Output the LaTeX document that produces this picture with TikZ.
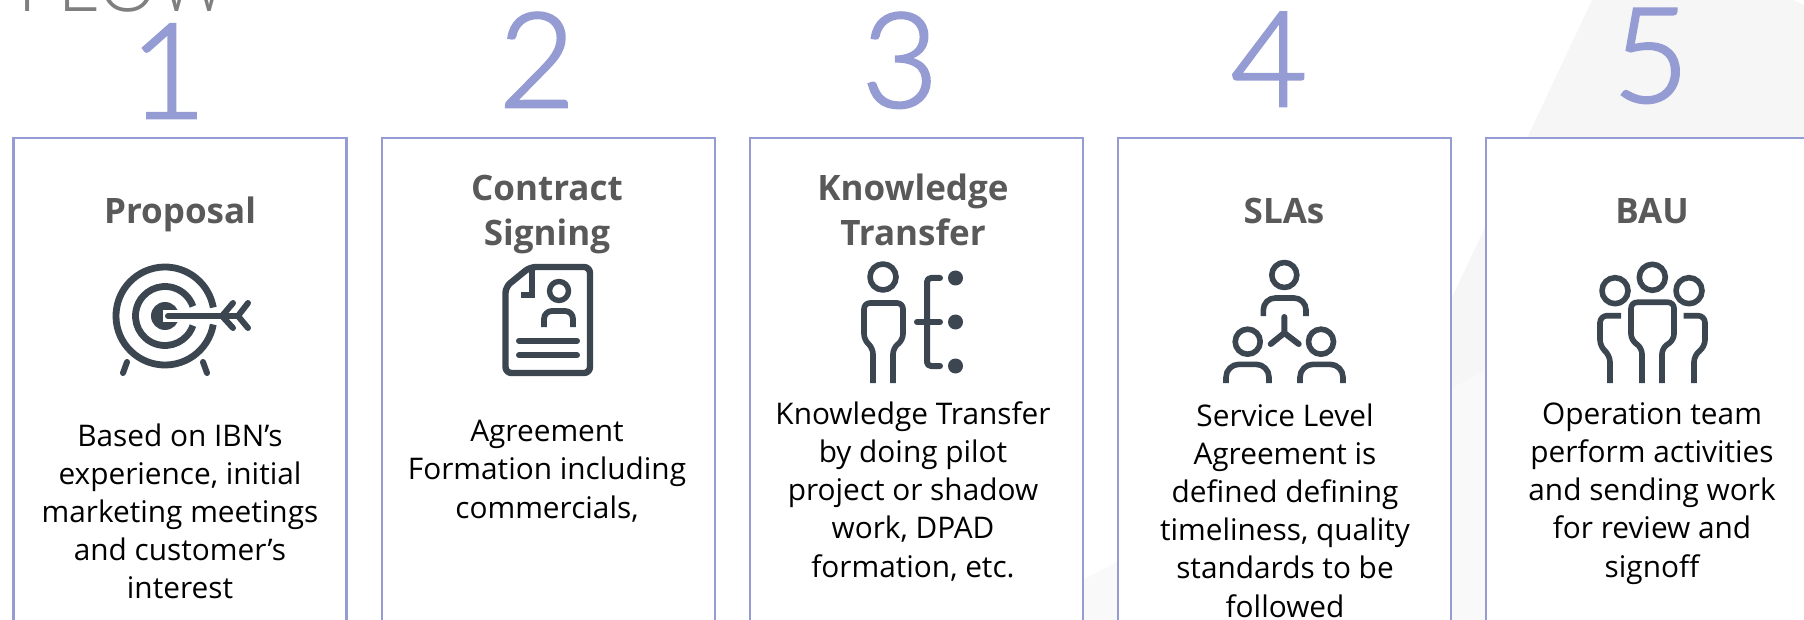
\documentclass[tikz,border=0pt]{standalone}
\usepackage{fontspec}
\setmainfont{Open Sans}
\newfontfamily\lightf{Open Sans Light}
\newfontfamily\numf[FakeBold=2]{Lato Light}
\definecolor{frame}{HTML}{959BD3}
\definecolor{ink}{HTML}{3B4651}
\definecolor{headc}{HTML}{595959}
\definecolor{flowc}{HTML}{7F7F7F}
\definecolor{bgc}{HTML}{F6F6F6}
\definecolor{bgd}{HTML}{F9F9FA}
\tikzset{
 x=0.5pt,y=-0.5pt,
 stepbox/.style={draw=frame,line width=1.25pt,fill=white},
 num/.style={text=frame,font=\numf\fontsize{66}{66}\selectfont,anchor=base,inner sep=0},
 head/.style={text=headc,font=\bfseries\fontsize{17.5}{22.5}\selectfont,align=center,inner sep=0},
 body/.style={text=black,font=\fontsize{14.9}{19.1}\selectfont,align=center,inner sep=0,anchor=north},
 ic/.style={draw=ink,line width=3pt,line cap=round,line join=round},
 icb/.style={draw=ink,line width=2.9pt,line cap=butt,line join=round},
}
\begin{document}
\begin{tikzpicture}
\useasboundingbox (0,0) rectangle (1804,620);
\clip (0,0) rectangle (1804,620);
\fill[bgc] (1592,0) -- (1793,0) -- (1804,5) -- (1804,620) -- (1300,620) -- cycle;
\fill[white] (1592,0) -- (1300,533) -- (1300,0) -- cycle;
\fill[bgd] (1005,620) -- (1600,311) -- (1804,620) -- cycle;
\node[text=flowc,font=\lightf\fontsize{40}{40}\selectfont,anchor=base west,inner sep=0] (flow) at (17,12) {FLOW};
\foreach \l in {13.5,382,750,1118,1486}{
 \draw[stepbox] (\l,138) rectangle (\l+333,640);
}
\node[num] (n1) at (168,118) {1};
\node[num] (n2) at (537,107) {2};
\node[num] (n3) at (900,107) {3};
\node[num] (n4) at (1269,106) {4};
\node[num] (n5) at (1651,102) {5};
\node[head] (h1) at (180,214) {Proposal};
\node[head] (h2) at (547,215) {Contract\\Signing};
\node[head] (h3) at (913,210) {Knowledge\\Transfer};
\node[head] (h4) at (1284,211) {SLAs};
\node[head] (h5) at (1652,211) {BAU};
\node[body] (t1) at (180,423) {Based on IBN’s\\experience, initial\\marketing meetings\\and customer’s\\interest};
\node[body] (t2) at (547,420) {Agreement\\Formation including\\commercials,};
\node[body] (t3) at (913,401) {Knowledge Transfer\\by doing pilot\\project or shadow\\work, DPAD\\formation, etc.};
\node[body] (t4) at (1285,403) {Service Level\\Agreement is\\defined defining\\timeliness, quality\\standards to be\\followed};
\node[body] (t5) at (1652,402) {Operation team\\perform activities\\and sending work\\for review and\\signoff};
% target icon
\draw[icb,line width=3.4pt] (165,316) ++(10:49) arc (10:350:49);
\draw[icb,line width=3.4pt] (165,316) ++(19:29.5) arc (19:341:29.5);
\fill[ink] (165,316) circle[radius=14];
\fill[white] (163,310) rectangle (222,322);
\draw[ic] (168,316) -- (238,316);
\draw[ic] (233,303) -- (222,316) -- (233,328);
\draw[ic] (248,303) -- (238,316) -- (248,328);
\draw[ic] (127,362) -- (123,373);
\draw[ic] (203,362) -- (207,373);
% contract icon
\draw[ic,line width=3.2pt,rounded corners=3pt] (530,267) -- (590,267) -- (590,373) -- (505.5,373) -- (505.5,287) -- cycle;
\draw[ic,line join=miter,line cap=butt] (532,268) -- (532,295) -- (521,295);
\draw[icb,line width=2.7pt] (559,291) circle[radius=9.5];
\draw[icb,rounded corners=4pt] (544,327) -- (544,311) -- (573,311) -- (573,327);
\draw[ic] (519,340.7) -- (577,340.7);
\draw[ic] (519,355.3) -- (577,355.3);
% knowledge transfer icon
\draw[icb,line width=2.8pt] (883,277) circle[radius=13];
\draw[icb,line width=2.8pt,rounded corners=3pt] (873,383) -- (873,348) -- (864,340) -- (864,303) -- (903,303) -- (903,340) -- (893,348) -- (893,383);
\draw[ic,rounded corners=2pt] (940,278) -- (927,278) -- (927,366) -- (940,366);
\draw[ic] (917,322) -- (940,322);
\fill[ink] (955.5,278) circle[radius=7.5] (955.5,322) circle[radius=7.5] (955.5,366) circle[radius=7.5];
% SLA icon
\draw[icb,line width=2.8pt] (1284.3,275) circle[radius=12.5];
\draw[icb,line width=2.8pt,rounded corners=6pt] (1263.3,316) -- (1263.3,298) -- (1306,298) -- (1306,316);
\draw[ic] (1284.3,317) -- (1284.3,333) -- (1270.7,344);
\draw[ic] (1284.3,333) -- (1298.7,344);
\draw[icb,line width=2.8pt] (1247.7,341.7) circle[radius=12.5];
\draw[icb,line width=2.8pt] (1321,341.7) circle[radius=12.5];
\draw[icb,line width=2.8pt,rounded corners=6.5pt] (1226,383) -- (1226,364.3) -- (1269,364.3) -- (1269,383);
\draw[icb,line width=2.8pt,rounded corners=6.5pt] (1300,383) -- (1300,364.3) -- (1343,364.3) -- (1343,383);
% BAU icon
\draw[icb,line width=2.8pt] (1652.3,277.3) circle[radius=13];
\draw[icb,line width=2.8pt] (1615,290.7) circle[radius=13];
\draw[icb,line width=2.8pt] (1689,290.7) circle[radius=13];
\draw[icb,line width=2.8pt,rounded corners=3pt] (1642,383) -- (1642,348) -- (1631,340) -- (1631,302.3) -- (1674,302.3) -- (1674,340) -- (1662,348) -- (1662,383);
\draw[icb,line width=2.8pt,rounded corners=3.5pt] (1621,315.7) -- (1600,315.7) -- (1600,347) -- (1610,355) -- (1610,383);
\draw[icb,line width=2.8pt,rounded corners=3.5pt] (1683.5,315.7) -- (1705,315.7) -- (1705,347) -- (1694,355) -- (1694,383);
\end{tikzpicture}
\end{document}
